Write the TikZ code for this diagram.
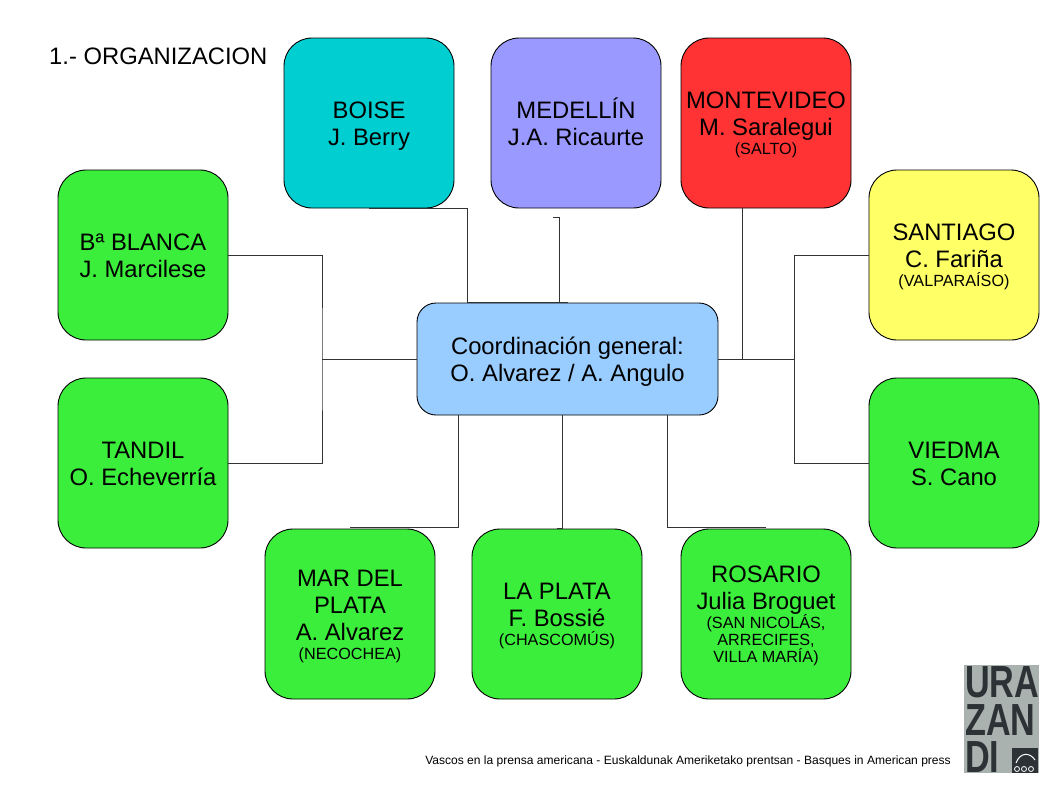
\documentclass[tikz,border=0pt]{standalone}
\usepackage{fontspec}
\setmainfont{Liberation Sans}
\usetikzlibrary{calc}
\definecolor{cellCyan}{RGB}{0,206,209}
\definecolor{cellLilac}{RGB}{153,153,255}
\definecolor{cellRed}{RGB}{255,51,51}
\definecolor{cellGreen}{RGB}{60,238,60}
\definecolor{cellYellow}{RGB}{255,255,102}
\definecolor{cellBlue}{RGB}{153,204,255}
\definecolor{logoGrey}{RGB}{170,178,175}
\definecolor{logoInk}{RGB}{44,50,54}
\newcommand{\headline}{\rule{0pt}{23.5pt}}
\newcommand{\smalltown}[1]{\\[-8pt]{\fontsize{16.2}{17}\selectfont #1}}
\newcommand{\smallnext}[1]{\\[-10pt]{\fontsize{16.2}{17}\selectfont #1}}
\tikzset{
  city/.style={draw=black, line width=0.9pt, rounded corners=28pt, minimum width=170pt, minimum height=170pt,
    inner sep=0pt, outer sep=0pt, align=center, execute at end node={\rule[-6pt]{0pt}{6pt}}},
  hubbox/.style={city, rounded corners=19pt, minimum width=301pt, minimum height=112pt},
  link/.style={draw=black!80, line width=1pt},
  logorow/.style={font=\fontsize{45}{45}\bfseries\selectfont, text=logoInk, inner sep=0pt, anchor=base west, xscale=0.76, transform shape}
}
\begin{document}
\begin{tikzpicture}[x=1pt, y=-1pt, every node/.style={font=\fontsize{23.8}{27}\selectfont}]
  \useasboundingbox (0,0) rectangle (1058,793);
  \coordinate (boiseFoot) at (467.5,302.5);
  \coordinate (medStub) at (553,217);
  \coordinate (medFoot) at (559.5,302);
  \coordinate (montTap) at (742,359);
  \coordinate (leftBus) at (322,359);
  \coordinate (rightBus) at (794.5,359);
  \coordinate (marTap) at (458,527.5);
  \coordinate (plataTap) at (562,528);
  \coordinate (rosTap) at (667,527.5);
  \node[hubbox, fill=cellBlue] (hub) at (567.5,359) {\headline Coordinación general:\\O. Alvarez / A. Angulo};
  \node[city, fill=cellCyan] (boise) at (369,123) {\headline BOISE\\J. Berry};
  \node[city, fill=cellLilac] (medellin) at (576,123) {\headline MEDELLÍN\\J.A. Ricaurte};
  \node[city, fill=cellRed] (montevideo) at (766,123) {\headline MONTEVIDEO\\M. Saralegui\smalltown{(SALTO)}};
  \node[city, fill=cellGreen] (blanca) at (143,255) {\headline Bª BLANCA\\J. Marcilese};
  \node[city, fill=cellGreen] (tandil) at (143,463) {\headline TANDIL\\O. Echeverría};
  \node[city, fill=cellYellow] (santiago) at (954,255) {\headline SANTIAGO\\C. Fariña\smalltown{(VALPARAÍSO)}};
  \node[city, fill=cellGreen] (viedma) at (954,463) {\headline VIEDMA\\S. Cano};
  \node[city, fill=cellGreen] (mardel) at (350,614) {\headline MAR DEL\\PLATA\\A. Alvarez\smalltown{(NECOCHEA)}};
  \node[city, fill=cellGreen] (laplata) at (557,614) {\headline LA PLATA\\F. Bossié\smalltown{(CHASCOMÚS)}};
  \node[city, fill=cellGreen] (rosario) at (766,614) {\headline ROSARIO\\Julia Broguet\smalltown{(SAN NICOLÁS,}\smallnext{ARRECIFES,}\smallnext{VILLA MARÍA)}};
  \draw[link] (boise.south) -| (boiseFoot) -- (boiseFoot -| hub.north);
  \draw[link] (medStub) -| (medFoot);
  \draw[link] (montTap |- montevideo.south) -- (montTap);
  \draw[link] (blanca.east) -| (leftBus) |- (tandil.east);
  \draw[link] (leftBus) -- (hub.west);
  \draw[link] (santiago.west) -| (rightBus) |- (viedma.west);
  \draw[link] (hub.east) -- (rightBus);
  \draw[link] (marTap |- hub.south) -- (marTap) -- (marTap -| mardel.north);
  \draw[link] (plataTap |- hub.south) -- (plataTap) -- (plataTap -| laplata.north);
  \draw[link] (rosTap |- hub.south) -- (rosTap) -- (rosTap -| rosario.north);
  \node[anchor=base west, inner sep=0pt] (title) at (49,64) {1.- ORGANIZACION};
  \node[anchor=base east, inner sep=0pt, font=\fontsize{12.05}{13}\selectfont] (footer) at (951,764) {Vascos en la prensa americana - Euskaldunak Ameriketako prentsan - Basques in American press};
  % logo
  \fill[logoGrey] (964,665) rectangle (1039,773);
  \node[logorow] (ura) at (965,697) {URA};
  \node[logorow] (zan) at (965,735) {ZAN};
  \node[logorow] (di) at (965,772) {DI};
  \fill[logoInk] (1012,748) rectangle (1038,773);
  \draw[white, line width=1pt] (1016,763) .. controls (1020,752) and (1030,752) .. (1035,760);
  \foreach \x in {1017,1024,1031} { \draw[white, line width=0.8pt] (\x,769) circle (2.5pt); }
\end{tikzpicture}
\end{document}
